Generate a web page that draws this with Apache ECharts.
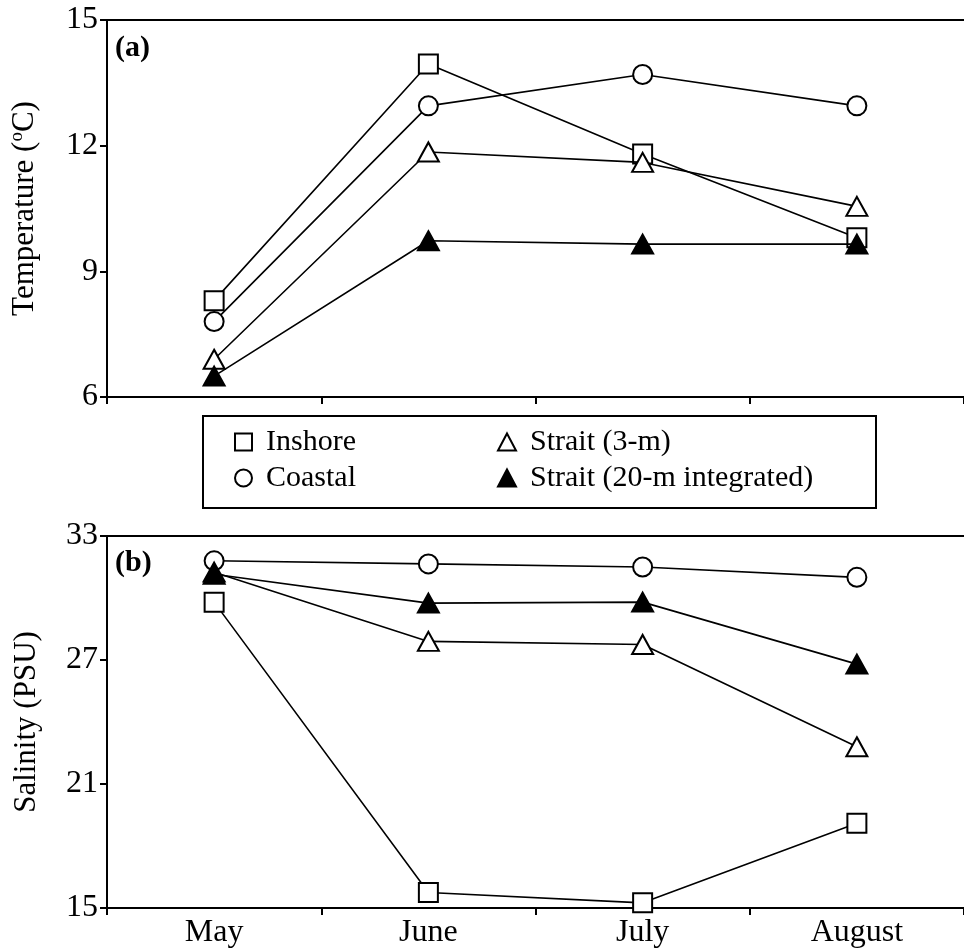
<!DOCTYPE html>
<html><head><meta charset="utf-8">
<script src="https://cdn.jsdelivr.net/npm/echarts@6/dist/echarts.min.js"></script>
<style>html,body{margin:0;padding:0;background:#fff}#c{width:964px;height:951px}</style>
</head><body><div id="c"></div>
<script>
// ---- data ----
const months = ['May', 'June', 'July', 'August'];
const seriesNames = ['Inshore', 'Coastal', 'Strait (3-m)', 'Strait (20-m integrated)'];
const tempTicks = [6, 9, 12, 15];
const salTicks = [15, 21, 27, 33];
const tempInshore = [8.3, 13.95, 11.8, 9.8];
const tempCoastal = [7.8, 12.95, 13.7, 12.95];
const tempStrait3 = [6.9, 11.85, 11.6, 10.55];
const tempStrait20 = [6.5, 9.73, 9.65, 9.65];
const salInshore = [29.8, 15.75, 15.25, 19.1];
const salCoastal = [31.8, 31.65, 31.5, 31.0];
const salStrait3 = [31.25, 27.9, 27.75, 22.8];
const salStrait20 = [31.15, 29.75, 29.8, 26.8];

// ---- styles ----
const FONT = '"Liberation Serif", "Times New Roman", serif';
const BLACK = '#000';
const symStyles = [
  { symbol: 'rect', size: 19, fill: '#fff' },
  { symbol: 'circle', size: 19, fill: '#fff' },
  { symbol: 'triangle', size: [21, 19], fill: '#fff' },
  { symbol: 'triangle', size: [21, 19], fill: '#000' }
];
const tempData = [tempInshore, tempCoastal, tempStrait3, tempStrait20];
const salData = [salInshore, salCoastal, salStrait3, salStrait20];

function mkSeries(name, data, gi, st, z) {
  return {
    name: name, type: 'line', xAxisIndex: gi * 2, yAxisIndex: gi, data: data,
    symbol: st.symbol, symbolSize: st.size,
    itemStyle: { color: st.fill, borderColor: BLACK, borderWidth: 2 },
    lineStyle: { color: BLACK, width: 1.6 },
    emphasis: { disabled: true }, z: z, animation: false
  };
}
const series = [];
seriesNames.forEach((n, i) => series.push(mkSeries(n, tempData[i], 0, symStyles[i], 2 + i)));
seriesNames.forEach((n, i) => series.push(mkSeries(n, salData[i], 1, symStyles[i], 2 + i)));

const axisLine = { show: true, lineStyle: { color: BLACK, width: 2 } };
const axisTick = { show: true, inside: false, length: 7, lineStyle: { color: BLACK, width: 2 } };

function xAx(gi, showLabels) {
  return {
    gridIndex: gi, type: 'category', data: months, boundaryGap: true,
    axisLine: axisLine, axisTick: axisTick, splitLine: { show: false },
    axisLabel: { show: showLabels, fontFamily: FONT, fontSize: 32, color: BLACK, margin: 9 }
  };
}
function xTop(gi) {
  return {
    gridIndex: gi, type: 'category', data: months, position: 'top',
    axisLine: axisLine, axisTick: { show: false }, axisLabel: { show: false }, splitLine: { show: false }
  };
}
function yAx(gi, ticks, name) {
  return {
    gridIndex: gi, type: 'value', min: ticks[0], max: ticks[ticks.length - 1],
    interval: ticks[1] - ticks[0],
    axisLine: axisLine, axisTick: axisTick, splitLine: { show: false },
    axisLabel: { fontFamily: FONT, fontSize: 32, color: BLACK, margin: 9 },
    name: name, nameLocation: 'middle', nameGap: 65,
    nameTextStyle: {
      fontFamily: FONT, fontSize: 31, color: BLACK,
      rich: {
        a: { fontFamily: FONT, fontSize: 31, color: BLACK, lineHeight: 34 },
        s: { fontFamily: FONT, fontSize: 19, color: BLACK, verticalAlign: 'top', lineHeight: 34, padding: [0, 0, 10, 0] }
      }
    }
  };
}
const legendText = { fontFamily: FONT, fontSize: 30, color: BLACK, padding: [0, 0, 0, 9] };

const option = {
  backgroundColor: '#fff',
  animation: false,
  grid: [
    { left: 107, width: 860, top: 20, height: 377 },
    { left: 107, width: 860, top: 536, height: 372 }
  ],
  xAxis: [xAx(0, false), xTop(0), xAx(1, true), xTop(1)],
  yAxis: [
    yAx(0, tempTicks, '{a|Temperature (}{s|o}{a|C)}'),
    yAx(1, salTicks, 'Salinity (PSU)')
  ],
  legend: [
    {
      data: [{ name: seriesNames[0], icon: 'rect' }, { name: seriesNames[1], icon: 'circle' }],
      orient: 'vertical', left: 234, top: 427, padding: 0, itemGap: 6,
      itemWidth: 17, itemHeight: 17, textStyle: legendText, selectedMode: false
    },
    {
      data: [{ name: seriesNames[2], icon: 'triangle' }, { name: seriesNames[3], icon: 'triangle' }],
      orient: 'vertical', left: 497, top: 427, padding: 0, itemGap: 6,
      itemWidth: 18, itemHeight: 17, textStyle: legendText, selectedMode: false
    }
  ],
  graphic: [
    { type: 'rect', shape: { x: 203, y: 416, width: 673, height: 92 },
      style: { fill: 'none', stroke: BLACK, lineWidth: 2 }, z: 1 },
    { type: 'text', left: 115, top: 33, style: { text: '(a)', font: 'bold 30px ' + FONT, fill: BLACK } },
    { type: 'text', left: 115, top: 548, style: { text: '(b)', font: 'bold 30px ' + FONT, fill: BLACK } }
  ],
  series: series
};
const chart = echarts.init(document.getElementById('c'), null, { renderer: 'canvas' });
chart.setOption(option);
</script>
</body></html>
